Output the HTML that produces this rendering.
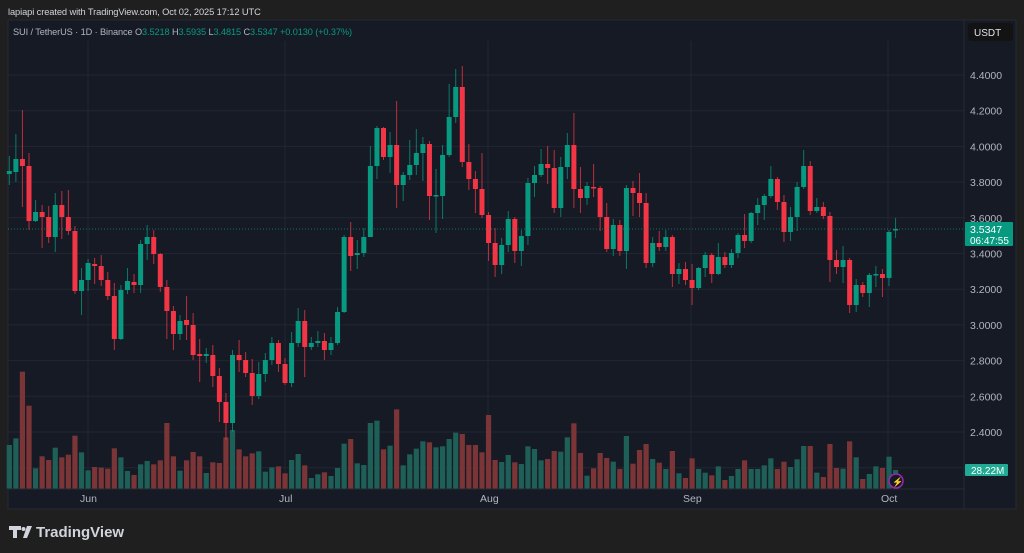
<!DOCTYPE html>
<html><head><meta charset="utf-8">
<style>
html,body{margin:0;padding:0;background:#1f1f1f;width:1024px;height:553px;overflow:hidden;font-family:"Liberation Sans",sans-serif;}
</style></head><body>
<svg id="s" width="1024" height="553" xmlns="http://www.w3.org/2000/svg" style="position:absolute;left:0;top:0">
<rect x="0" y="0" width="1024" height="553" fill="#1f1f1f"/>
<text x="8" y="15" font-size="9.3" fill="#d1d4dc" letter-spacing="-0.1">lapiapi created with TradingView.com, Oct 02, 2025 17:12 UTC</text>
<rect x="8" y="20" width="1008" height="489" fill="#161a25" stroke="#262a33" stroke-width="1"/>
<g id="grid"></g>
<g id="vol"></g>
<g id="cdl"></g>
<line x1="8" y1="229" x2="964" y2="229" stroke="#089981" stroke-width="1" stroke-dasharray="1,2" opacity="0.7"/>
<text x="13" y="35" font-size="9.2" fill="#b2b5be" letter-spacing="-0.1">SUI / TetherUS · 1D · Binance <tspan>O</tspan><tspan fill="#089981">3.5218</tspan> <tspan>H</tspan><tspan fill="#089981">3.5935</tspan> <tspan>L</tspan><tspan fill="#089981">3.4815</tspan> <tspan>C</tspan><tspan fill="#089981">3.5347</tspan> <tspan fill="#089981">+0.0130 (+0.37%)</tspan></text>
<rect x="968" y="23" width="45" height="18" rx="3" fill="#131313"/>
<text x="974" y="36" font-size="10" fill="#e0e3eb">USDT</text>
<g id="axis" font-size="10.5" fill="#b2b5be"></g>
<rect x="965" y="222" width="48" height="24" rx="1" fill="#089981"/>
<text x="970" y="233" font-size="10.5" fill="#ffffff">3.5347</text>
<text x="970" y="244" font-size="10" fill="#ffffff">06:47:55</text>
<rect x="965" y="464" width="43" height="12" rx="1" fill="#22ab94"/>
<text x="971" y="474" font-size="10" fill="#ffffff">28.22M</text>
<text x="80" y="502" font-size="10.5" fill="#b2b5be">Jun</text>
<text x="279" y="502" font-size="10.5" fill="#b2b5be">Jul</text>
<text x="480" y="502" font-size="10.5" fill="#b2b5be">Aug</text>
<text x="683" y="502" font-size="10.5" fill="#b2b5be">Sep</text>
<text x="881" y="502" font-size="10.5" fill="#b2b5be">Oct</text>
<circle cx="896" cy="481" r="7" fill="#161a25" stroke="#9c27b0" stroke-width="1.5"/>
<text x="892" y="485" font-size="9" fill="#ba68c8">⚡</text>
<g fill="#d1d4dc">
<path d="M9 526h12v4h-4v8h-4v-8h-4z"/>
<circle cx="23.5" cy="529" r="2"/>
<path d="M27 526h5l-5 12h-4z"/>
</g>
<text x="36" y="537" font-size="15" font-weight="bold" fill="#d1d4dc">TradingView</text>
</svg>
<script>
var NS="http://www.w3.org/2000/svg";
function el(p,t,a){var e=document.createElementNS(NS,t);for(var k in a)e.setAttribute(k,a[k]);p.appendChild(e);return e;}
var g=document.getElementById('grid'),ax=document.getElementById('axis');
for(var i=0;i<12;i++){var p=4.4-0.2*i;var y=75+i*35.7;
 if(y<488) el(g,'line',{x1:8,x2:964,y1:y,y2:y,stroke:'#222632','stroke-width':1});
 if(p>2.35){var t=el(ax,'text',{x:970,y:y+4});t.textContent=p.toFixed(4);}}
[88,285,488,691,888].forEach(function(x){el(g,'line',{x1:x,x2:x,y1:41,y2:488,stroke:'#222632','stroke-width':1});});
el(g,'line',{x1:964,x2:964,y1:20,y2:509,stroke:'#262a33'});
el(g,'line',{x1:8,x2:964,y1:489,y2:489,stroke:'#262a33'});
var D=[[174,171,156,185],[172,159,134,182],[159,166,110,207],[166,221,153,230],[221,212,200,222],[212,217,205,248],[217,237,206,243],[237,205,193,252],[205,217,191,239],[217,231,190,235],
[231,291,226,294],[291,280,268,315],[280,263,259,291],[264,266,258,284],[266,280,255,286],[280,296,272,300],[296,339,283,350],[339,290,285,340],[290,281,268,294],[282,285,274,293],
[285,244,240,293],[244,237,225,260],[237,254,230,264],[254,287,253,292],[287,311,280,339],[311,334,306,350],[334,321,315,340],[320,325,296,340],[325,355,313,360],[354,356,339,382],
[356,354,348,363],[355,376,345,387],[376,402,368,422],[402,423,393,440],[423,355,350,432],[355,360,340,372],[360,373,352,377],[373,396,359,405],[396,374,362,399],[374,360,353,382],
[360,343,337,365],[343,364,340,372],[364,383,358,385],[383,343,332,387],[343,321,308,347],[321,347,310,377],[347,343,337,350],[343,341,331,347],[341,350,333,360],[350,343,337,355],
[343,312,307,345],[312,237,235,313],[237,256,222,271],[255,253,240,269],[253,237,228,257],[237,166,146,237],[166,128,126,179],[128,157,127,160],[157,145,132,173],[145,185,101,208],
[185,175,172,201],[175,165,140,180],[165,153,129,175],[153,144,137,181],[144,196,141,220],[196,195,169,233],[196,155,145,219],[155,117,84,157],[117,87,69,123],[87,162,66,167],
[162,179,144,190],[179,189,171,213],[189,215,153,218],[215,243,212,261],[243,265,228,277],[265,245,238,274],[245,219,211,252],[219,251,217,263],[251,236,230,266],[236,183,178,245],
[183,175,166,197],[175,164,149,177],[164,168,146,184],[168,208,150,213],[208,167,157,217],[167,145,133,179],[145,189,113,208],[189,198,167,213],[198,186,182,205],[187,188,164,197],
[188,217,186,231],[217,249,203,252],[249,225,219,256],[225,251,220,256],[251,188,185,269],[188,193,181,216],[193,203,173,217],[203,263,193,268],[263,243,237,267],[243,247,231,251],
[247,237,230,251],[237,274,235,287],[274,269,263,284],[269,280,262,285],[280,288,264,305],[288,268,267,290],[268,255,252,277],[255,274,253,283],[274,257,243,275],[257,265,252,268],
[265,253,249,268],[253,235,233,258],[235,241,214,248],[241,213,212,243],[213,205,198,225],[205,196,194,220],[196,179,166,198],[179,202,177,210],[202,232,195,242],[232,217,207,241],
[217,187,182,231],[187,166,150,189],[166,211,161,215],[211,207,198,213],[207,216,202,219],[216,260,212,282],[260,267,250,274],[267,260,246,283],[260,305,258,313],[305,285,279,312],
[285,293,282,297],[293,275,273,307],[275,274,266,287],[274,278,269,297],[278,232,230,286],[230,229,218,238]];
var V8=[255,235,35,137,325,289,300,263,292,284,227,277,331,321,323,326,265,292,333,345,313,303,313,301,189,289,332,301,276,289,339,307,309,232,210,268,289,280,274,335,322,319,340,300,282,316,354,343,337,348,324,251,237,310,315,189,182,268,257,148,316,283,266,244,247,262,259,237,218];
var V9=[102,135,135,157,45,180,186,165,187,192,139,147,181,177,153,155,112,70,159,227,205,159,174,185,207,108,191,150,132,177,188,207,153,220,234,175,207,218,226,199,240,228,207,181,207,207,196,175,207,185,201,178,138,138,218,231,132,204,206,124,172,237,222,199,204,170,210];
var V=V8.map(function(z){return 360+z/3;}).concat(V9.map(function(z){return 400+z/3;}));
var vg=document.getElementById('vol'),cg=document.getElementById('cdl');
D.forEach(function(d,i){
 var x=9.3+6.565*i;var up=d[1]<=d[0];
 var col=up?'#089981':'#f23645';var vcol=up?'#1e5f57':'#7b3537';
 var vt=V[i]||480;el(vg,'rect',{x:x-2.6,y:vt,width:5.2,height:488.5-vt,fill:vcol});
 el(cg,'line',{x1:x,x2:x,y1:d[2],y2:d[3],stroke:col,'stroke-width':1,opacity:0.75});
 var t=Math.min(d[0],d[1]),h=Math.max(1.5,Math.abs(d[1]-d[0]));
 el(cg,'rect',{x:x-2.5,y:t,width:5,height:h,fill:col});
});
</script>
</body></html>
